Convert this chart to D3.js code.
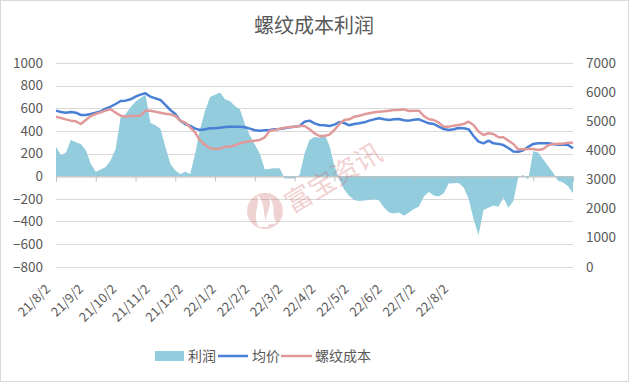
<!DOCTYPE html>
<html>
<head>
<meta charset="utf-8">
<script src="https://cdn.jsdelivr.net/npm/d3@7"></script>
<style>
  body { margin: 0; background: #fff; }
  svg { display: block; font-family: "Noto Sans CJK SC", "Noto Sans", sans-serif; }
</style>
</head>
<body>
<div id="chart"></div>
<script>
// month labels shown under the plot
var monthLabels = ["21/8/2", "21/9/2", "21/10/2", "21/11/2", "21/12/2", "22/1/2", "22/2/2",
                   "22/3/2", "22/4/2", "22/5/2", "22/6/2", "22/7/2", "22/8/2"];

// 利润 (left axis), every week
var profit = [260, 185, 210, 320, 300, 285, 230, 110, 40, 60,
              80, 140, 240, 520, 550, 610, 660, 690, 720, 470,
              450, 420, 260, 110, 50, 20, 40, 20, 200, 420,
              580, 700, 720, 740, 680, 665, 620, 590, 460, 360,
              280, 200, 60, 65, 70, 70, -20, -20, -20, 10,
              200, 320, 345, 340, 370, 270, 90, -30, -120, -175,
              -210, -220, -215, -210, -205, -215, -280, -320, -330, -320,
              -350, -320, -290, -270, -180, -140, -170, -180, -150, -65,
              -62, -60, -100, -200, -380, -520, -300, -280, -260, -270,
              -190, -280, -220, -10, 10, -30, 220, 210, 150, 90,
              30, -40, -55, -90, -150];

// 均价 (right axis)
var avgPrice = [5362, 5316, 5293, 5316, 5293, 5213, 5213, 5248, 5293, 5339,
                5431, 5500, 5591, 5694, 5706, 5752, 5843, 5912, 5958, 5843,
                5786, 5729, 5557, 5385, 5248, 5019, 4904, 4836, 4744, 4698,
                4721, 4755, 4755, 4778, 4801, 4813, 4813, 4813, 4790, 4744,
                4687, 4675, 4687, 4698, 4721, 4732, 4755, 4790, 4813, 4836,
                4984, 5019, 4927, 4870, 4858, 4836, 4881, 4973, 4938, 4858,
                4904, 4927, 4961, 5019, 5064, 5099, 5064, 5041, 5064, 5076,
                5030, 5019, 5053, 5064, 4996, 4927, 4904, 4813, 4732, 4698,
                4721, 4767, 4755, 4721, 4492, 4297, 4240, 4332, 4240, 4220,
                4180, 4080, 3960, 3950, 4000, 4120, 4220, 4240, 4240, 4240,
                4217, 4194, 4194, 4183, 4068];

// 螺纹成本 (right axis)
var rebarCost = [5156, 5110, 5064, 5019, 4996, 4904, 5041, 5179, 5248, 5305,
                 5362, 5408, 5293, 5190, 5156, 5179, 5179, 5190, 5362, 5362,
                 5328, 5293, 5259, 5236, 5179, 5019, 4950, 4790, 4606, 4332,
                 4183, 4068, 4045, 4057, 4126, 4126, 4171, 4240, 4286, 4309,
                 4332, 4355, 4446, 4675, 4698, 4744, 4778, 4801, 4813, 4836,
                 4836, 4721, 4583, 4492, 4492, 4538, 4698, 4904, 5041, 5064,
                 5156, 5190, 5236, 5270, 5305, 5328, 5339, 5362, 5385, 5385,
                 5408, 5351, 5362, 5362, 5179, 5064, 5041, 4950, 4813, 4813,
                 4847, 4870, 4904, 4984, 4870, 4641, 4526, 4584, 4561, 4446,
                 4446, 4332, 4217, 4034, 4034, 4045, 4045, 4011, 4045, 4171,
                 4206, 4229, 4229, 4263, 4263];

var leftTicks = [-800, -600, -400, -200, 0, 200, 400, 600, 800, 1000];
var rightTicks = [0, 1000, 2000, 3000, 4000, 5000, 6000, 7000];
var seriesNames = ["利润", "均价", "螺纹成本"];

var W = 629, H = 384;
var plot = {left: 56, right: 573, top: 63, bottom: 266.7};

var svg = d3.select("#chart").append("svg")
    .attr("width", W)
    .attr("height", H);

// chart frame
svg.append("rect")
    .attr("x", 0.5).attr("y", 0.5)
    .attr("width", W - 1).attr("height", 381)
    .attr("fill", "#fff")
    .attr("stroke", "#d9d9d9");

var x = d3.scaleLinear()
    .domain([0, profit.length - 1])
    .range([plot.left, plot.right]);

var y = d3.scaleLinear()
    .domain([-800, 1000])
    .range([plot.bottom, plot.top]);

var yR = d3.scaleLinear()
    .domain([0, 7000])
    .range([plot.bottom, plot.top]);

var color = d3.scaleOrdinal()
    .domain(seriesNames)
    .range(["#93cddd", "#4a7fd6", "#e09a9a"]);

// gridlines
svg.append("g")
    .selectAll("line")
    .data(leftTicks)
    .enter()
    .append("line")
    .attr("x1", plot.left)
    .attr("x2", plot.right)
    .attr("y1", d => Math.round(y(d)) + 0.5)
    .attr("y2", d => Math.round(y(d)) + 0.5)
    .attr("stroke", "#d9d9d9");

// left axis labels
var leftAxis = svg.append("g")
    .attr("transform", "translate(" + (plot.left - 10) + ",0)")
    .call(d3.axisLeft(y).tickValues(leftTicks).tickSize(0).tickFormat(d3.format("d")));
leftAxis.select(".domain").remove();
leftAxis.selectAll("text")
    .attr("fill", "#595959")
    .style("font-size", "13.5px")
    .style("font-family", "'Noto Sans CJK SC', sans-serif");

// right axis labels
var rightAxis = svg.append("g")
    .attr("transform", "translate(" + (plot.right + 10) + ",0)")
    .call(d3.axisRight(yR).tickValues(rightTicks).tickSize(0).tickFormat(d3.format("d")));
rightAxis.select(".domain").remove();
rightAxis.selectAll("text")
    .attr("fill", "#595959")
    .style("font-size", "13.5px")
    .style("font-family", "'Noto Sans CJK SC', sans-serif");

// profit area
var area = d3.area()
    .x((d, i) => x(i))
    .y0(y(0))
    .y1(d => y(d));

svg.append("path")
    .datum(profit)
    .attr("d", area)
    .attr("fill", color("利润"));

// x axis on the zero line
var xAxis = svg.append("g")
    .attr("transform", "translate(0," + (Math.round(y(0)) + 0.5) + ")")
    .call(d3.axisBottom(x)
        .tickValues(d3.range(0, profit.length, 8))
        .tickSize(5)
        .tickFormat(""));
xAxis.selectAll("line, path").attr("stroke", "#bfbfbf");

// month labels under the plot
var xLabel = d3.scalePoint()
    .domain(monthLabels)
    .range([51, 449]);

svg.append("g")
    .selectAll("text")
    .data(monthLabels)
    .enter()
    .append("text")
    .attr("transform", d => "translate(" + xLabel(d) + ",290) rotate(-45)")
    .attr("text-anchor", "end")
    .attr("fill", "#595959")
    .style("font-size", "13px")
    .text(d => d);

// price lines
var line = d3.line()
    .x((d, i) => x(i))
    .y(d => yR(d));

[["均价", avgPrice], ["螺纹成本", rebarCost]].forEach(s => {
    svg.append("path")
        .datum(s[1])
        .attr("d", line)
        .attr("fill", "none")
        .attr("stroke", color(s[0]))
        .attr("stroke-width", 2.5)
        .attr("stroke-linejoin", "round");
});

// watermark
var wm = svg.append("g").attr("opacity", 0.28);
wm.append("text")
    .attr("transform", "translate(292,214) rotate(-31)")
    .attr("fill", "#d06060")
    .style("font-size", "27px")
    .text("富宝资讯");
var logo = wm.append("g").attr("transform", "translate(265,211)");
logo.append("circle").attr("r", 18).attr("fill", "#c86464");
logo.append("path")
    .attr("d", "M-6,16 C-14,4 -4,-6 -8,-16 C2,-8 -4,4 4,16 Z M2,14 C-2,4 8,-2 4,-14 C12,-4 6,6 12,12 Z")
    .attr("fill", "#fff");

// title
svg.append("text")
    .attr("x", 314)
    .attr("y", 33)
    .attr("text-anchor", "middle")
    .attr("fill", "#595959")
    .style("font-size", "20px")
    .text("螺纹成本利润");

// legend
var legend = svg.append("g").attr("transform", "translate(0,356)");
legend.append("rect")
    .attr("x", 155).attr("y", -5)
    .attr("width", 29).attr("height", 10)
    .attr("fill", color("利润"));
legend.append("line")
    .attr("x1", 218).attr("x2", 248)
    .attr("stroke", color("均价")).attr("stroke-width", 2.5);
legend.append("line")
    .attr("x1", 281).attr("x2", 312)
    .attr("stroke", color("螺纹成本")).attr("stroke-width", 2.5);

[[188, "利润"], [252, "均价"], [315, "螺纹成本"]].forEach(l => {
    legend.append("text")
        .attr("x", l[0])
        .attr("y", 5)
        .attr("fill", "#595959")
        .style("font-size", "14px")
        .text(l[1]);
});
</script>
</body>
</html>
